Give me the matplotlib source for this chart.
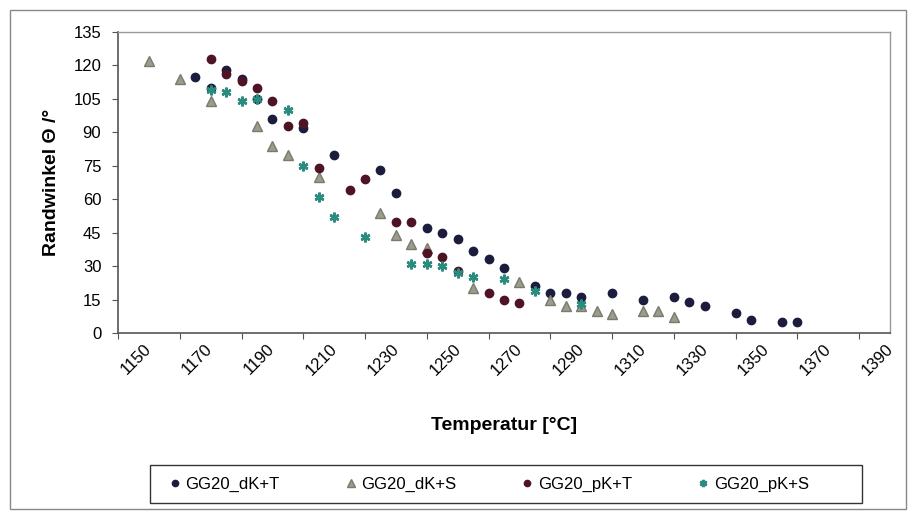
import matplotlib.pyplot as plt
import matplotlib.patches as patches
import numpy as np

plt.rcParams['font.family'] = ['Liberation Sans', 'DejaVu Sans']

# GG20_dK+T
dkt_x = [1175, 1180, 1185, 1190, 1195, 1200, 1210, 1220, 1235, 1240, 1250, 1255, 1260,
         1265, 1270, 1275, 1285, 1290, 1295, 1300, 1310, 1320, 1330, 1335, 1340, 1350,
         1355, 1365, 1370]
dkt_y = [115, 110, 118, 114, 105, 96, 92, 80, 73, 63, 47, 45, 42,
         37, 33, 29, 21, 18, 18, 16, 18, 15, 16, 14, 12, 9,
         6, 5, 5]

# GG20_dK+S
dks_x = [1160, 1170, 1180, 1195, 1200, 1205, 1215, 1235, 1240, 1245, 1250, 1265, 1280,
         1290, 1295, 1300, 1305, 1310, 1320, 1325, 1330]
dks_y = [122, 114, 104, 93, 84, 80, 70, 54, 44, 40, 38, 20, 23,
         15, 12, 12, 10, 8.5, 10, 10, 7]

# GG20_pK+T
pkt_x = [1180, 1185, 1190, 1195, 1200, 1205, 1210, 1215, 1225, 1230, 1240, 1245, 1250,
         1255, 1260, 1270, 1275, 1280]
pkt_y = [123, 116, 113, 110, 104, 93, 94, 74, 64, 69, 50, 50, 36,
         34, 28, 18, 15, 13.5]

# GG20_pK+S
pks_x = [1180, 1185, 1190, 1195, 1205, 1210, 1215, 1220, 1230, 1245, 1250, 1255, 1260,
         1265, 1275, 1285, 1300]
pks_y = [109, 108, 104, 105, 100, 75, 61, 52, 43, 31, 31, 30, 27,
         25, 24, 19, 13]

fig = plt.figure(figsize=(9.16, 5.19), dpi=100)
W, H = 916, 519
ax = fig.add_axes([118 / W, 1 - 333 / H, (890 - 118) / W, (333 - 32) / H])

ax.plot(dkt_x, dkt_y, 'o', ls='none', color='#1c1c3e', ms=6, label='GG20_dK+T')
ax.plot(dks_x, dks_y, '^', ls='none', color='#9c9c8c', mec='#7a7a6e', ms=7, label='GG20_dK+S')
ax.plot(pkt_x, pkt_y, 'o', ls='none', color='#4e1426', ms=6, label='GG20_pK+T')
ax.plot(pks_x, pks_y, marker=(6, 2, 0), ls='none', color='#2a8c7e', ms=7, mew=1.8,
        label='GG20_pK+S')

ax.set_xlim(1150, 1400)
ax.set_ylim(0, 135)
ax.set_xticks(np.arange(1150, 1391, 20))
ax.set_yticks(np.arange(0, 136, 15))
ax.set_xticklabels([str(v) for v in range(1150, 1391, 20)], rotation=45,
                   ha='left', va='top', fontsize=12)
ax.tick_params(axis='y', labelsize=12, pad=8, length=4, direction='out', color='#555555')
ax.tick_params(axis='x', pad=2, length=4, direction='out', color='#555555')

for s in ['left', 'bottom']:
    ax.spines[s].set_color('#555555')
    ax.spines[s].set_linewidth(1.2)
for s in ['top', 'right']:
    ax.spines[s].set_color('#999999')
    ax.spines[s].set_linewidth(1.0)

ax.set_xlabel('Temperatur [°C]', fontsize=14, fontweight='bold', labelpad=28)
ax.set_ylabel('Randwinkel Θ /°', fontsize=14, fontweight='bold', labelpad=10)

# legend box (Excel style, wider than its entries)
fig.patches.append(patches.Rectangle((150 / W, 1 - 503 / H), (862 - 150) / W, (503 - 465) / H,
                                     transform=fig.transFigure, fill=False,
                                     edgecolor='#333333', lw=1))
fig.legend(loc='center', bbox_to_anchor=(489 / W, 1 - 484 / H), ncol=4,
           frameon=False, fontsize=12,
           handlelength=0.7, handletextpad=0.3, columnspacing=3.9, markerscale=0.75)

fig.patches.append(patches.Rectangle((10 / W, 1 - 509 / H), (906 - 10) / W, (509 - 10) / H,
                                     transform=fig.transFigure, fill=False,
                                     edgecolor='#888888', lw=1))

fig.savefig('out.png', dpi=100)
